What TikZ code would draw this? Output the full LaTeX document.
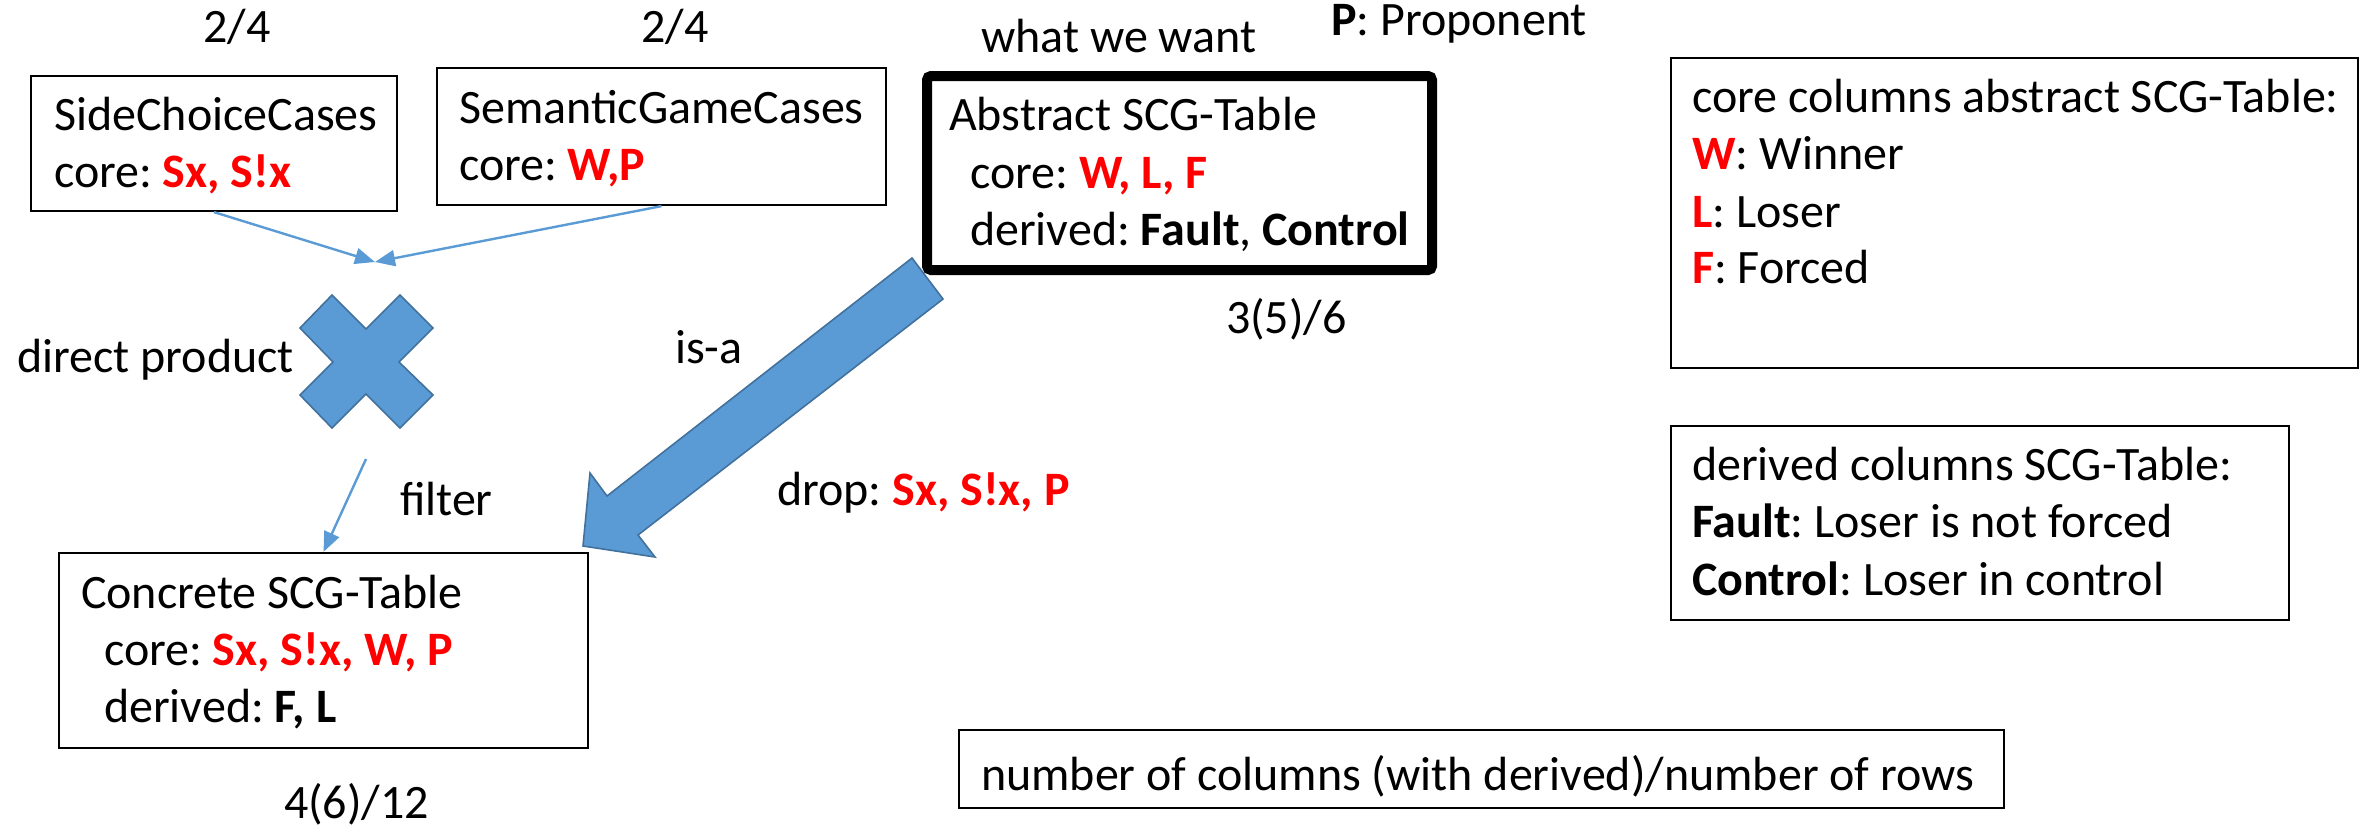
\documentclass[tikz,border=0pt]{standalone}
\usepackage{fontspec}
\setmainfont{Carlito}
\usetikzlibrary{fit,arrows.meta}
\definecolor{hot}{HTML}{FF0000}
\definecolor{office}{HTML}{5B9BD5}
\definecolor{officedark}{HTML}{41719C}
\newcommand{\hl}[1]{\textcolor{hot}{\textbf{#1}}}
\frenchspacing

\begin{document}
\begin{tikzpicture}[x=0.5pt, y=-0.5pt, line width=1.1pt,
    box/.style={draw, inner sep=0pt},
    txt/.style={anchor=base west, inner sep=0pt, font=\fontsize{24}{28.5}\selectfont},
    mid/.style={txt, anchor=base},
    thinarrow/.style={draw=office, line width=1.2pt, -{Triangle[length=10pt, width=8pt]}},
    blueshape/.style={fill=office, draw=officedark, line width=0.8pt, line join=miter}]
    \useasboundingbox (0, 0) rectangle (2366, 827);

    % draw boxes
    \node[box, fit={(31, 76) (397, 211)}] (side) {};
    \node[box, fit={(437, 68) (886, 205)}] (sem) {};
    \node[box, line width=5pt, rounded corners=2pt, fit={(927, 76) (1432, 270)}] (abstract) {};
    \node[box, fit={(59, 553) (588, 748)}] (concrete) {};
    \node[box, fit={(1671, 58) (2358, 368)}] (corecols) {};
    \node[box, fit={(1671, 426) (2289, 620)}] (derivedcols) {};
    \node[box, fit={(959, 730) (2004, 808)}] (numcols) {};

    % texts of the boxes
    \node[txt] (sideA) at (53, 130) {SideChoiceCases};
    \node[txt] (sideB) at (53, 187) {core: \hl{Sx, S!x}};
    \node[txt] (semA) at (458, 123) {SemanticGameCases};
    \node[txt] (semB) at (458, 180) {core: \hl{W,P}};
    \node[txt] (absA) at (948, 130) {Abstract SCG-Table};
    \node[txt] (absB) at (969, 188) {core: \hl{W, L, F}};
    \node[txt] (absC) at (969, 245) {derived: \textbf{Fault}, \textbf{Control}};
    \node[txt] (conA) at (80, 608) {Concrete SCG-Table};
    \node[txt] (conB) at (103, 665) {core: \hl{Sx, S!x, W, P}};
    \node[txt] (conC) at (103, 722) {derived: \textbf{F, L}};
    \node[txt] (coreA) at (1691, 112) {core columns abstract SCG-Table:};
    \node[txt] (coreB) at (1691, 169) {\hl{W}: Winner};
    \node[txt] (coreC) at (1691, 227) {\hl{L}: Loser};
    \node[txt] (coreD) at (1691, 283) {\hl{F}: Forced};
    \node[txt] (derA) at (1691, 480) {derived columns SCG-Table:};
    \node[txt] (derB) at (1691, 537) {\textbf{Fault}: Loser is not forced};
    \node[txt] (derC) at (1691, 595) {\textbf{Control}: Loser in control};
    \node[txt] (numA) at (980, 790) {number of columns (with derived)/number of rows};

    % free labels
    \node[mid] (sizeside) at (237, 42) {2/4};
    \node[mid] (sizesem) at (675, 42) {2/4};
    \node[txt] (want) at (980, 52) {what we want};
    \node[txt] (prop) at (1330, 35) {\textbf{P}: Proponent};
    \node[txt] (sizeabs) at (1225, 333) {3(5)/6};
    \node[txt] (sizecon) at (283, 818) {4(6)/12};
    \node[txt] (product) at (16, 372) {direct product};
    \node[txt] (filter) at (399, 515) {filter};
    \node[txt] (isa) at (674, 363) {is-a};
    \node[txt] (drop) at (776, 505) {drop: \hl{Sx, S!x, P}};

    % thin arrows
    \coordinate (join) at (375, 262);
    \coordinate (split) at (366, 459);
    \draw[thinarrow] (side.south) -- (join);
    \draw[thinarrow] (sem.south) -- (join);
    \draw[thinarrow] (split) -- (concrete.north);

    % draw product cross
    \draw[blueshape] (332, 295) -- (366, 329) -- (400, 295) -- (433, 328) -- (399, 362)
        -- (433, 395) -- (400, 428) -- (366, 394) -- (332, 428) -- (300, 395)
        -- (333, 362) -- (300, 328) -- cycle;

    % draw big is-a arrow
    \draw[blueshape] (912, 258) -- (943, 299) -- (638, 535) -- (655, 557) -- (583, 546)
        -- (590, 473) -- (607, 496) -- cycle;

\end{tikzpicture}
\end{document}
